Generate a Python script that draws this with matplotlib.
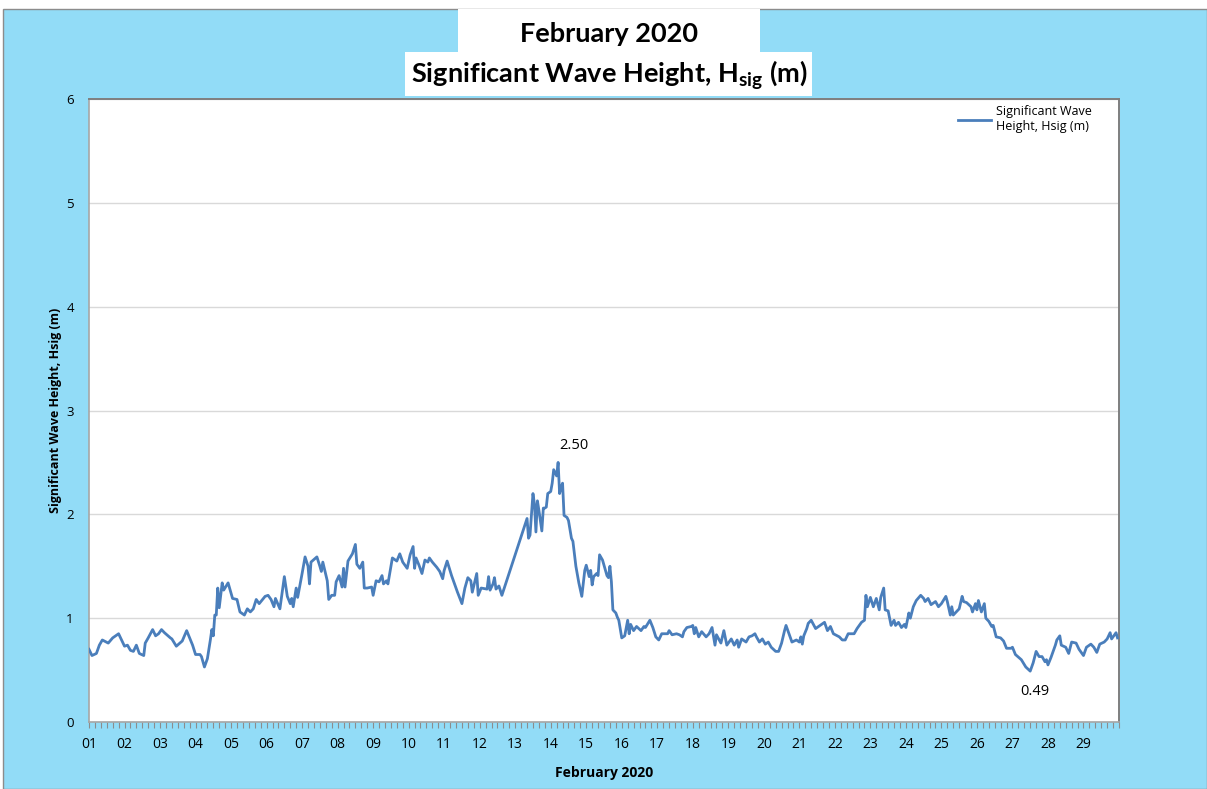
import matplotlib
matplotlib.use("Agg")
import matplotlib.pyplot as plt
from matplotlib.patches import Rectangle
from matplotlib.ticker import MultipleLocator, FixedLocator
import numpy as np

# ---- data: hours since 2020-02-01 00:00 and significant wave height (m)
hours = [0, 2, 5, 7, 9, 13, 16, 20, 22, 24, 26, 28, 30, 32, 34, 37, 38, 40, 43, 45,
         47, 49, 51, 55, 56, 59, 63, 66, 68, 70, 72, 75, 76, 78, 80, 82, 83, 84, 85, 86,
         87, 88, 90, 91, 94, 97, 100, 102, 105, 107, 109, 111, 113, 115, 119, 121, 123, 125, 126, 129,
         132, 134, 136, 137, 138, 140, 141, 144, 146, 148, 149, 150, 154, 156, 157, 158, 161, 162, 164, 166,
         167, 169, 171, 172, 173, 175, 178, 180, 181, 183, 185, 186, 188, 191, 192, 194, 196, 198, 199, 201,
         202, 204, 205, 208, 210, 212, 215, 217, 219, 220, 221, 223, 225, 227, 229, 230, 232, 235, 237, 239,
         240, 242, 245, 247, 249, 252, 254, 256, 258, 259, 262, 263, 265, 269, 270, 271, 273, 274, 275, 277,
         279, 296, 297, 298, 300, 301, 302, 303, 304, 306, 307, 308, 309, 310, 312, 313, 314, 316, 317, 318,
         319, 320, 321, 323, 324, 326, 327, 329, 331, 333, 335, 336, 338, 339, 340, 341, 343, 344, 345, 347,
         350, 351, 352, 353, 354, 356, 357, 358, 360, 362, 364, 365, 366, 368, 370, 373, 375, 376, 379, 381,
         383, 385, 387, 391, 392, 394, 397, 399, 401, 402, 404, 407, 408, 409, 410, 412, 414, 417, 419, 421,
         423, 424, 427, 429, 431, 434, 436, 438, 439, 441, 444, 446, 448, 450, 451, 453, 455, 457, 459, 461,
         464, 466, 468, 470, 471, 473, 475, 478, 480, 481, 482, 483, 485, 486, 488, 491, 493, 497, 499, 501,
         503, 507, 509, 511, 513, 517, 519, 522, 524, 525, 526, 528, 530, 532, 534, 535, 537, 538, 540, 542,
         544, 545, 547, 549, 551, 552, 554, 555, 557, 559, 562, 564, 565, 567, 569, 572, 574, 576, 579, 580,
         582, 583, 584, 586, 588, 590, 591, 593, 596, 597, 599, 600, 601, 603, 605, 606, 608, 610, 611, 613,
         616, 618, 620, 623, 624, 626, 630, 633, 636, 638, 640, 642, 644, 646, 647, 648, 650, 653, 654, 656,
         657, 660, 662, 664, 667, 669, 672, 674, 677, 679, 681, 683, 686, 688, 690, 691, 694, 695]

hsig = [0.70, 0.64, 0.66, 0.74, 0.79, 0.76, 0.81, 0.85, 0.79, 0.73, 0.74, 0.69, 0.68, 0.74, 0.66, 0.64, 0.76, 0.81, 0.89, 0.83,
        0.85, 0.89, 0.86, 0.81, 0.80, 0.73, 0.78, 0.88, 0.81, 0.74, 0.65, 0.65, 0.63, 0.53, 0.61, 0.79, 0.89, 0.83, 1.03, 1.03,
        1.29, 1.10, 1.34, 1.27, 1.34, 1.19, 1.18, 1.06, 1.03, 1.09, 1.06, 1.09, 1.18, 1.14, 1.21, 1.22, 1.18, 1.11, 1.19, 1.09,
        1.40, 1.21, 1.14, 1.19, 1.11, 1.29, 1.20, 1.43, 1.59, 1.50, 1.33, 1.54, 1.59, 1.50, 1.45, 1.54, 1.36, 1.18, 1.22, 1.22,
        1.35, 1.41, 1.30, 1.48, 1.30, 1.55, 1.62, 1.71, 1.52, 1.48, 1.54, 1.29, 1.29, 1.30, 1.22, 1.36, 1.35, 1.41, 1.33, 1.36,
        1.33, 1.50, 1.58, 1.55, 1.62, 1.54, 1.48, 1.61, 1.69, 1.48, 1.58, 1.51, 1.43, 1.56, 1.54, 1.58, 1.54, 1.49, 1.45, 1.38,
        1.46, 1.55, 1.41, 1.33, 1.25, 1.14, 1.29, 1.39, 1.36, 1.25, 1.43, 1.22, 1.29, 1.28, 1.40, 1.27, 1.33, 1.39, 1.28, 1.31,
        1.22, 1.96, 1.77, 1.80, 2.20, 2.10, 1.83, 2.13, 2.04, 1.84, 2.06, 2.06, 2.07, 2.20, 2.22, 2.30, 2.43, 2.37, 2.50, 2.20,
        2.26, 2.30, 1.99, 1.97, 1.94, 1.77, 1.74, 1.50, 1.34, 1.21, 1.46, 1.51, 1.40, 1.46, 1.32, 1.40, 1.43, 1.41, 1.61, 1.56,
        1.41, 1.39, 1.50, 1.35, 1.08, 1.05, 1.01, 0.98, 0.81, 0.83, 0.98, 0.85, 0.94, 0.88, 0.92, 0.88, 0.92, 0.91, 0.98, 0.91,
        0.82, 0.79, 0.85, 0.85, 0.88, 0.84, 0.85, 0.84, 0.82, 0.87, 0.91, 0.92, 0.93, 0.85, 0.91, 0.82, 0.87, 0.82, 0.85, 0.91,
        0.74, 0.84, 0.76, 0.88, 0.74, 0.80, 0.74, 0.79, 0.72, 0.80, 0.77, 0.82, 0.83, 0.85, 0.82, 0.77, 0.80, 0.75, 0.77, 0.72,
        0.68, 0.68, 0.76, 0.88, 0.93, 0.85, 0.77, 0.79, 0.77, 0.82, 0.75, 0.83, 0.90, 0.95, 0.98, 0.90, 0.92, 0.96, 0.88, 0.92,
        0.85, 0.82, 0.79, 0.79, 0.85, 0.85, 0.90, 0.96, 0.98, 1.22, 1.11, 1.20, 1.11, 1.19, 1.08, 1.20, 1.29, 1.08, 1.07, 0.93,
        0.98, 0.93, 0.96, 0.91, 0.94, 0.91, 1.05, 1.00, 1.11, 1.17, 1.22, 1.19, 1.16, 1.19, 1.13, 1.16, 1.11, 1.14, 1.21, 1.16,
        1.03, 1.11, 1.03, 1.06, 1.09, 1.21, 1.16, 1.15, 1.11, 1.06, 1.14, 1.08, 1.17, 1.06, 1.14, 1.00, 0.97, 0.92, 0.93, 0.82,
        0.81, 0.78, 0.71, 0.71, 0.72, 0.65, 0.60, 0.53, 0.49, 0.57, 0.68, 0.63, 0.63, 0.58, 0.60, 0.55, 0.62, 0.74, 0.79, 0.83,
        0.74, 0.72, 0.66, 0.77, 0.76, 0.70, 0.64, 0.72, 0.75, 0.72, 0.67, 0.75, 0.77, 0.80, 0.86, 0.80, 0.86, 0.81]

day_labels = ["%02d" % d for d in range(1, 30)]
y_ticks = [0, 1, 2, 3, 4, 5, 6]

title1 = "February 2020"
title2 = r"Significant Wave Height, H$_{\mathregular{sig}}$ (m)"
x_title = "February 2020"
y_title = "Significant Wave Height, Hsig (m)"
series_name = "Significant Wave\nHeight, Hsig (m)"

BG = "#92DCF7"
LINE = "#4A7EBB"
W, H = 1207, 789

plt.rcParams["font.family"] = ["Open Sans", "DejaVu Sans"]

fig = plt.figure(figsize=(W / 100, H / 100), dpi=100)
fig.patch.set_facecolor("white")

def fx(px):
    return px / W

def fy(py):
    return 1 - py / H

# chart area background
fig.patches.append(Rectangle((fx(3), 0), fx(W - 3), fy(9), transform=fig.transFigure,
                             facecolor=BG, edgecolor="#8C8C8C", linewidth=1.0, zorder=-3))
# title boxes
fig.patches.append(Rectangle((fx(458), fy(52)), fx(760 - 458), (52 - 9) / H, transform=fig.transFigure,
                             facecolor="white", edgecolor="none", zorder=-2))
fig.patches.append(Rectangle((fx(405), fy(96)), fx(812 - 405), (96 - 52) / H, transform=fig.transFigure,
                             facecolor="white", edgecolor="none", zorder=-2))
fig.text(fx(609), fy(34), title1, ha="center", va="center", fontsize=19.5, fontweight="bold",
         family=["Lato", "DejaVu Sans"], zorder=3)
fig.text(fx(609), fy(75), title2, ha="center", va="center", fontsize=19.5, fontweight="bold",
         family=["Lato", "DejaVu Sans"], zorder=3)

ax = fig.add_axes([fx(89), fy(722), fx(1119 - 89), (722 - 99) / H])
ax.set_zorder(2)
ax.set_facecolor("white")
ax.plot(hours, hsig, color=LINE, linewidth=2.0, label=series_name, zorder=3)

ax.set_xlim(0, 696)
ax.set_ylim(0, 6)
ax.set_yticks(y_ticks)
ax.set_yticklabels([str(v) for v in y_ticks])
ax.yaxis.grid(True, color="#D9D9D9", linewidth=1.0)
ax.set_axisbelow(True)
ax.tick_params(axis="y", length=0, pad=11, labelsize=9.5, colors="#000000")

ax.xaxis.set_major_locator(FixedLocator([24 * i for i in range(29)]))
ax.set_xticklabels(day_labels)
ax.xaxis.set_minor_locator(MultipleLocator(4))
ax.tick_params(axis="x", which="both", length=4, width=0.8, color="#8C8C8C", labelsize=10, pad=7)

for s in ["left", "bottom"]:
    ax.spines[s].set_color("#A6A6A6")
    ax.spines[s].set_linewidth(1.2)
for s in ["top", "right"]:
    ax.spines[s].set_color("#7F7F7F")
    ax.spines[s].set_linewidth(1.4)

ax.set_xlabel(x_title, fontsize=10, fontweight="bold", labelpad=10)
ax.set_ylabel(y_title, fontsize=9, fontweight="bold", labelpad=3)

# max / min labels
imax = int(np.argmax(hsig))
imin = int(np.argmin(hsig))
ax.annotate("%.2f" % hsig[imax], (hours[imax], hsig[imax]), xytext=(11, 12), textcoords="offset points",
            ha="center", va="center", fontsize=10.5)
ax.annotate("%.2f" % hsig[imin], (hours[imin], hsig[imin]), xytext=(3, -15), textcoords="offset points",
            ha="center", va="center", fontsize=10.5)

leg = ax.legend(loc="upper left", bbox_to_anchor=(0.8437, 0.99), frameon=False, fontsize=9,
                handlelength=2.6, handletextpad=0.4, borderaxespad=0, borderpad=0)

fig.savefig("out.png", dpi=100, facecolor=fig.get_facecolor())
